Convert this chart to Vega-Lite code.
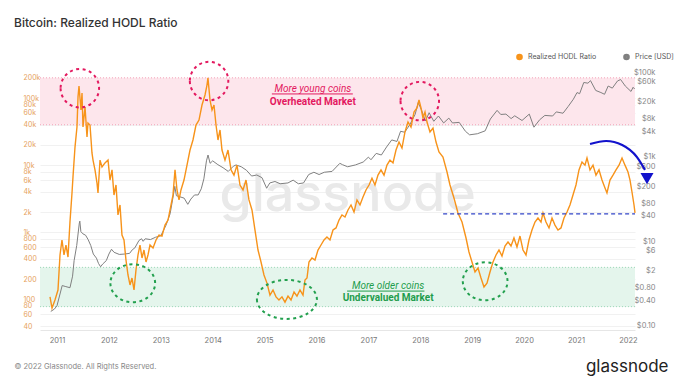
{
"$schema": "https://vega.github.io/schema/vega-lite/v6.json",
"width": 595, "height": 264,
"autosize": {"type": "none"},
"padding": {"left": 40, "top": 66, "right": 45, "bottom": 53},
"background": "white",
"config": {"font": "Inter", "view": {"stroke": null}},
"title": {"text": "Bitcoin: Realized HODL Ratio", "anchor": "start", "frame": "group", "dx": -26, "dy": -13, "fontSize": 12, "fontWeight": 500, "color": "#333", "offset": 10},
"datasets": {
"hodl": [{"t":2010.865,"v":109},{"t":2010.904,"v":74},{"t":2010.961,"v":98},{"t":2011.019,"v":138},{"t":2011.058,"v":459},{"t":2011.096,"v":767},{"t":2011.135,"v":459},{"t":2011.173,"v":646},{"t":2011.212,"v":428},{"t":2011.25,"v":1420},{"t":2011.289,"v":3850},{"t":2011.308,"v":6650},{"t":2011.347,"v":18600},{"t":2011.385,"v":37000},{"t":2011.405,"v":104000},{"t":2011.424,"v":151000},{"t":2011.462,"v":66300},{"t":2011.482,"v":119000},{"t":2011.501,"v":37000},{"t":2011.54,"v":73500},{"t":2011.578,"v":26300},{"t":2011.597,"v":42400},{"t":2011.636,"v":39600},{"t":2011.674,"v":15200},{"t":2011.694,"v":11900},{"t":2011.732,"v":8500},{"t":2011.771,"v":5400},{"t":2011.79,"v":3850},{"t":2011.829,"v":11900},{"t":2011.867,"v":9400},{"t":2011.925,"v":10800},{"t":2011.983,"v":11900},{"t":2012.021,"v":6000},{"t":2012.06,"v":8500},{"t":2012.098,"v":3590},{"t":2012.137,"v":5060},{"t":2012.175,"v":1810},{"t":2012.214,"v":2550},{"t":2012.252,"v":910},{"t":2012.291,"v":767},{"t":2012.329,"v":386},{"t":2012.368,"v":231},{"t":2012.407,"v":164},{"t":2012.445,"v":208},{"t":2012.484,"v":138},{"t":2012.522,"v":274},{"t":2012.561,"v":459},{"t":2012.599,"v":646},{"t":2012.638,"v":414},{"t":2012.676,"v":544},{"t":2012.715,"v":361},{"t":2012.753,"v":459},{"t":2012.792,"v":646},{"t":2012.85,"v":583},{"t":2012.908,"v":767},{"t":2012.965,"v":910},{"t":2013.023,"v":879},{"t":2013.081,"v":1280},{"t":2013.139,"v":1520},{"t":2013.197,"v":2550},{"t":2013.235,"v":3590},{"t":2013.274,"v":8500},{"t":2013.312,"v":4270},{"t":2013.351,"v":3030},{"t":2013.389,"v":4270},{"t":2013.447,"v":6000},{"t":2013.505,"v":10000},{"t":2013.563,"v":16800},{"t":2013.62,"v":23700},{"t":2013.678,"v":39600},{"t":2013.736,"v":47000},{"t":2013.794,"v":78700},{"t":2013.852,"v":111000},{"t":2013.89,"v":156000},{"t":2013.909,"v":199000},{"t":2013.948,"v":93400},{"t":2013.987,"v":66300},{"t":2014.025,"v":78700},{"t":2014.064,"v":39600},{"t":2014.102,"v":23700},{"t":2014.141,"v":33400},{"t":2014.179,"v":16800},{"t":2014.237,"v":11900},{"t":2014.295,"v":16800},{"t":2014.353,"v":8500},{"t":2014.41,"v":7100},{"t":2014.468,"v":10000},{"t":2014.526,"v":5060},{"t":2014.584,"v":4270},{"t":2014.642,"v":6000},{"t":2014.699,"v":3030},{"t":2014.757,"v":2150},{"t":2014.815,"v":1080},{"t":2014.873,"v":544},{"t":2014.931,"v":361},{"t":2014.988,"v":231},{"t":2015.046,"v":175},{"t":2015.104,"v":116},{"t":2015.162,"v":138},{"t":2015.22,"v":109},{"t":2015.277,"v":98},{"t":2015.335,"v":109},{"t":2015.393,"v":91},{"t":2015.451,"v":112},{"t":2015.509,"v":98},{"t":2015.567,"v":129},{"t":2015.624,"v":112},{"t":2015.682,"v":138},{"t":2015.74,"v":116},{"t":2015.778,"v":194},{"t":2015.817,"v":208},{"t":2015.855,"v":361},{"t":2015.913,"v":414},{"t":2015.971,"v":386},{"t":2016.029,"v":544},{"t":2016.087,"v":646},{"t":2016.145,"v":767},{"t":2016.202,"v":850},{"t":2016.26,"v":767},{"t":2016.318,"v":1080},{"t":2016.376,"v":1160},{"t":2016.434,"v":1520},{"t":2016.491,"v":1810},{"t":2016.549,"v":1690},{"t":2016.607,"v":2150},{"t":2016.665,"v":2550},{"t":2016.723,"v":2000},{"t":2016.78,"v":3030},{"t":2016.838,"v":2550},{"t":2016.896,"v":3350},{"t":2016.954,"v":4270},{"t":2017.012,"v":5060},{"t":2017.069,"v":6400},{"t":2017.127,"v":5060},{"t":2017.185,"v":7100},{"t":2017.243,"v":8500},{"t":2017.301,"v":7100},{"t":2017.358,"v":10000},{"t":2017.416,"v":11900},{"t":2017.474,"v":10800},{"t":2017.532,"v":16800},{"t":2017.59,"v":22100},{"t":2017.647,"v":18000},{"t":2017.705,"v":31200},{"t":2017.763,"v":43900},{"t":2017.821,"v":37000},{"t":2017.879,"v":61900},{"t":2017.936,"v":71000},{"t":2017.975,"v":93400},{"t":2018.014,"v":71000},{"t":2018.052,"v":50400},{"t":2018.091,"v":61900},{"t":2018.129,"v":43900},{"t":2018.187,"v":31200},{"t":2018.245,"v":35700},{"t":2018.303,"v":22100},{"t":2018.36,"v":15700},{"t":2018.437,"v":13200},{"t":2018.515,"v":7900},{"t":2018.572,"v":5060},{"t":2018.649,"v":3240},{"t":2018.726,"v":1940},{"t":2018.804,"v":1420},{"t":2018.881,"v":822},{"t":2018.938,"v":508},{"t":2018.996,"v":361},{"t":2019.054,"v":256},{"t":2019.112,"v":294},{"t":2019.17,"v":208},{"t":2019.227,"v":153},{"t":2019.285,"v":175},{"t":2019.343,"v":256},{"t":2019.401,"v":361},{"t":2019.459,"v":459},{"t":2019.516,"v":544},{"t":2019.574,"v":443},{"t":2019.632,"v":624},{"t":2019.69,"v":716},{"t":2019.748,"v":624},{"t":2019.805,"v":822},{"t":2019.863,"v":603},{"t":2019.921,"v":879},{"t":2019.979,"v":544},{"t":2020.037,"v":459},{"t":2020.094,"v":767},{"t":2020.152,"v":1080},{"t":2020.21,"v":1420},{"t":2020.268,"v":1630},{"t":2020.326,"v":1420},{"t":2020.364,"v":1940},{"t":2020.422,"v":1420},{"t":2020.48,"v":1160},{"t":2020.538,"v":1630},{"t":2020.595,"v":1280},{"t":2020.653,"v":1080},{"t":2020.711,"v":1160},{"t":2020.769,"v":1630},{"t":2020.827,"v":2000},{"t":2020.884,"v":2550},{"t":2020.942,"v":3590},{"t":2021.0,"v":5060},{"t":2021.058,"v":8500},{"t":2021.116,"v":11100},{"t":2021.173,"v":10000},{"t":2021.212,"v":12800},{"t":2021.27,"v":8500},{"t":2021.328,"v":10000},{"t":2021.385,"v":7100},{"t":2021.443,"v":8500},{"t":2021.501,"v":6000},{"t":2021.559,"v":4570},{"t":2021.597,"v":3850},{"t":2021.655,"v":6000},{"t":2021.713,"v":7100},{"t":2021.771,"v":8500},{"t":2021.829,"v":10000},{"t":2021.887,"v":12800},{"t":2021.944,"v":10000},{"t":2022.002,"v":7900},{"t":2022.041,"v":6000},{"t":2022.079,"v":3980},{"t":2022.118,"v":2550},{"t":2022.137,"v":1940}],
"price": [{"t":2010.88,"p":0.22},{"t":2010.95,"p":0.25},{"t":2011.0,"p":0.3},{"t":2011.1,"p":0.9},{"t":2011.17,"p":0.85},{"t":2011.25,"p":0.8},{"t":2011.3,"p":1.5},{"t":2011.33,"p":3.5},{"t":2011.38,"p":8},{"t":2011.43,"p":27},{"t":2011.44,"p":30},{"t":2011.46,"p":17},{"t":2011.5,"p":15},{"t":2011.55,"p":14},{"t":2011.6,"p":11},{"t":2011.65,"p":8},{"t":2011.7,"p":5},{"t":2011.76,"p":4},{"t":2011.8,"p":3},{"t":2011.84,"p":2.5},{"t":2011.88,"p":2.9},{"t":2011.95,"p":3.5},{"t":2012.0,"p":5},{"t":2012.05,"p":6.5},{"t":2012.1,"p":5.5},{"t":2012.2,"p":4.9},{"t":2012.3,"p":5.0},{"t":2012.4,"p":5.2},{"t":2012.45,"p":6.3},{"t":2012.5,"p":7},{"t":2012.58,"p":10.5},{"t":2012.63,"p":11.5},{"t":2012.66,"p":10},{"t":2012.7,"p":11.5},{"t":2012.8,"p":11},{"t":2012.9,"p":12.5},{"t":2013.0,"p":13.5},{"t":2013.1,"p":24},{"t":2013.18,"p":45},{"t":2013.25,"p":140},{"t":2013.27,"p":200},{"t":2013.3,"p":120},{"t":2013.35,"p":115},{"t":2013.45,"p":105},{"t":2013.52,"p":75},{"t":2013.58,"p":100},{"t":2013.65,"p":125},{"t":2013.72,"p":125},{"t":2013.78,"p":175},{"t":2013.83,"p":300},{"t":2013.88,"p":800},{"t":2013.91,"p":1100},{"t":2013.95,"p":700},{"t":2014.0,"p":800},{"t":2014.1,"p":650},{"t":2014.2,"p":550},{"t":2014.3,"p":450},{"t":2014.4,"p":600},{"t":2014.45,"p":640},{"t":2014.55,"p":580},{"t":2014.65,"p":480},{"t":2014.75,"p":350},{"t":2014.85,"p":370},{"t":2014.95,"p":320},{"t":2015.04,"p":180},{"t":2015.1,"p":240},{"t":2015.2,"p":260},{"t":2015.3,"p":230},{"t":2015.45,"p":240},{"t":2015.55,"p":280},{"t":2015.65,"p":230},{"t":2015.75,"p":240},{"t":2015.85,"p":380},{"t":2015.95,"p":430},{"t":2016.05,"p":380},{"t":2016.15,"p":430},{"t":2016.3,"p":450},{"t":2016.45,"p":700},{"t":2016.5,"p":650},{"t":2016.6,"p":580},{"t":2016.75,"p":640},{"t":2016.9,"p":750},{"t":2017.0,"p":980},{"t":2017.05,"p":850},{"t":2017.15,"p":1200},{"t":2017.25,"p":1100},{"t":2017.35,"p":1700},{"t":2017.45,"p":2500},{"t":2017.55,"p":2300},{"t":2017.62,"p":4000},{"t":2017.7,"p":3800},{"t":2017.8,"p":5800},{"t":2017.9,"p":10000},{"t":2017.96,"p":19000},{"t":2018.02,"p":13000},{"t":2018.1,"p":7000},{"t":2018.17,"p":11000},{"t":2018.26,"p":6900},{"t":2018.35,"p":9200},{"t":2018.45,"p":6300},{"t":2018.55,"p":8200},{"t":2018.62,"p":6300},{"t":2018.75,"p":6500},{"t":2018.87,"p":4000},{"t":2018.95,"p":3300},{"t":2019.1,"p":3500},{"t":2019.25,"p":4100},{"t":2019.35,"p":7800},{"t":2019.48,"p":12500},{"t":2019.55,"p":10000},{"t":2019.65,"p":10200},{"t":2019.75,"p":8000},{"t":2019.82,"p":9300},{"t":2019.96,"p":7200},{"t":2020.1,"p":10200},{"t":2020.19,"p":5000},{"t":2020.3,"p":7500},{"t":2020.4,"p":9500},{"t":2020.55,"p":9200},{"t":2020.62,"p":11500},{"t":2020.75,"p":10700},{"t":2020.85,"p":15500},{"t":2020.95,"p":23000},{"t":2021.02,"p":33000},{"t":2021.07,"p":31000},{"t":2021.15,"p":57000},{"t":2021.23,"p":55000},{"t":2021.28,"p":63000},{"t":2021.38,"p":37000},{"t":2021.48,"p":33000},{"t":2021.55,"p":30000},{"t":2021.62,"p":47000},{"t":2021.7,"p":42000},{"t":2021.8,"p":62000},{"t":2021.86,"p":67000},{"t":2021.95,"p":47000},{"t":2022.06,"p":35000},{"t":2022.1,"p":44000},{"t":2022.13,"p":40000}],
"bands": [{"zone":"over","t":2010.6725,"t1":2022.137,"lo":40000,"hi":200000},{"zone":"under","t":2010.6725,"t1":2022.137,"lo":78,"hi":300}],
"peaks": [{"t":2011.44,"v":140000},{"t":2013.93,"v":179000},{"t":2017.99,"v":90000}],
"lowsRound": [{"t":2012.46,"v":174},{"t":2019.25,"v":186}],
"lowsWide": [{"t":2015.43,"v":100}],
"labels": [{"t":2015.93,"v":136000,"txt":"More young coins","zone":"over","kind":"head"},{"t":2015.93,"v":86000,"txt":"Overheated Market","zone":"over","kind":"sub"},{"t":2017.38,"v":158,"txt":"More older coins","zone":"under","kind":"head"},{"t":2017.38,"v":104,"txt":"Undervalued Market","zone":"under","kind":"sub"}],
"underlines": [{"zone":"over","t":2015.14,"t1":2016.7,"v":115000},{"zone":"under","t":2016.59,"t1":2018.08,"v":133}],
"support": [{"t":2018.44,"t1":2022.137,"v":1880}],
"arrow": [{"t":2021.27,"v":20700},{"t":2021.58,"v":22900},{"t":2021.89,"v":20000},{"t":2022.175,"v":13200},{"t":2022.33,"v":8500}],
"arrowHead": [{"t":2022.368,"v":6300}],
"mark": [{"t":2016.6,"v":3600,"txt":"glassnode"}]
},
"encoding": {
 "x": {"field": "t", "type": "quantitative", "scale": {"domain": [2010.6725, 2022.137], "nice": false, "zero": false},
   "axis": {"values": [2011,2012,2013,2014,2015,2016,2017,2018,2019,2020,2021,2022], "format": "d", "labelColor": "#777", "labelFontSize": 7.5, "ticks": false, "tickSize": 0, "domain": true, "domainColor": "#e6e6e6", "grid": false, "labelPadding": 6, "labelFlush": false,
     "title": "© 2022 Glassnode. All Rights Reserved.", "titleAnchor": "start", "titleAlign": "left", "titleBaseline": "middle", "titleX": -26, "titleY": 36, "titleFontSize": 7.5, "titleColor": "#888", "titleFontWeight": "normal"}}
},
"layer": [
 {"data": {"name": "bands"}, "transform": [{"filter": "datum.zone == 'over'"}], "mark": {"type": "rect", "fill": "#fde6ec"},
  "encoding": {"x2": {"field": "t1"}, "y": {"field": "lo", "type": "quantitative", "scale": {"type": "log", "domain": [35, 300000], "nice": false, "zero": false}, "axis": null}, "y2": {"field": "hi"}}},
 {"data": {"name": "bands"}, "transform": [{"filter": "datum.zone == 'under'"}], "mark": {"type": "rect", "fill": "#e4f5ec"},
  "encoding": {"x2": {"field": "t1"}, "y": {"field": "lo", "type": "quantitative", "scale": {"type": "log", "domain": [35, 300000], "nice": false, "zero": false}, "axis": null}, "y2": {"field": "hi"}}},
 {"data": {"name": "bands"}, "transform": [{"filter": "datum.zone == 'over'"}, {"fold": ["lo", "hi"], "as": ["edge", "ev"]}], "mark": {"type": "rule", "stroke": "#f3a3b8", "strokeDash": [1, 2], "strokeWidth": 1},
  "encoding": {"x2": {"field": "t1"}, "y": {"field": "ev", "type": "quantitative", "scale": {"type": "log", "domain": [35, 300000], "nice": false, "zero": false}, "axis": null}}},
 {"data": {"name": "bands"}, "transform": [{"filter": "datum.zone == 'under'"}, {"fold": ["lo", "hi"], "as": ["edge", "ev"]}], "mark": {"type": "rule", "stroke": "#9dd8b8", "strokeDash": [1, 2], "strokeWidth": 1},
  "encoding": {"x2": {"field": "t1"}, "y": {"field": "ev", "type": "quantitative", "scale": {"type": "log", "domain": [35, 300000], "nice": false, "zero": false}, "axis": null}}},
 {"data": {"name": "mark"}, "mark": {"type": "text", "fontSize": 52, "font": "Inter", "color": "#e9e9e9", "fontWeight": 500},
  "encoding": {"y": {"field": "v", "type": "quantitative", "scale": {"type": "log", "domain": [35, 300000], "nice": false, "zero": false}, "axis": null}, "text": {"field": "txt"}}},
 {"data": {"name": "price"}, "mark": {"type": "line", "strokeWidth": 1},
  "encoding": {
   "y": {"field": "p", "type": "quantitative", "scale": {"type": "log", "domain": [0.08, 140000], "nice": false, "zero": false},
     "axis": {"orient": "right", "values": [0.1,0.4,0.8,2,6,10,40,80,200,600,1000,4000,8000,20000,60000,100000],
       "labelExpr": "datum.value < 1 ? '$' + format(datum.value, '.2f') : '$' + format(datum.value, '~s')",
       "labelAlign": "right", "labelPadding": 20, "ticks": false, "tickSize": 0, "domain": false, "grid": false, "labelColor": "#888", "labelFontSize": 7.5, "labelOverlap": false, "labelBound": false,
       "title": "glassnode", "titleAngle": 0, "titleAlign": "right", "titleBaseline": "middle", "titleX": 33, "titleY": 300, "titleFontSize": 17, "titleFontWeight": "normal", "titleColor": "#222"}},
   "color": {"datum": "Price [USD]", "type": "nominal"}
  }},
 {"data": {"name": "hodl"}, "mark": {"type": "line", "strokeWidth": 1.4, "interpolate": "linear"},
  "encoding": {
   "y": {"field": "v", "type": "quantitative", "scale": {"type": "log", "domain": [35, 300000], "nice": false, "zero": false},
     "axis": {"orient": "left", "values": [40,60,80,100,200,400,600,800,1000,2000,4000,6000,8000,10000,20000,40000,60000,80000,100000,200000], "format": "~s", "labelColor": "#e6a25c", "labelFontSize": 7, "labelAlign": "left", "labelPadding": 17, "ticks": false, "tickSize": 0, "domain": false, "grid": true, "gridColor": "#f1f1f1", "labelOverlap": false, "labelBound": false, "title": null}},
   "color": {"datum": "Realized HODL Ratio", "type": "nominal",
     "scale": {"domain": ["Realized HODL Ratio", "Price [USD]"], "range": ["#f7931a", "#808080"]},
     "legend": {"orient": "none", "legendX": 476, "legendY": -13, "direction": "horizontal", "title": null, "symbolType": "circle", "symbolSize": 10, "symbolStrokeWidth": 3.5, "labelFontSize": 7, "labelColor": "#555", "columnPadding": 20, "labelOffset": 5}}
  }},
 {"data": {"name": "support"}, "mark": {"type": "rule", "stroke": "#3346c8", "strokeDash": [4, 3], "strokeWidth": 1.4},
  "encoding": {"x2": {"field": "t1"},
   "y": {"field": "v", "type": "quantitative", "scale": {"type": "log", "domain": [35, 300000], "nice": false, "zero": false}, "axis": null}}},
 {"data": {"name": "arrow"}, "mark": {"type": "line", "stroke": "#1212cc", "strokeWidth": 2.2, "interpolate": "monotone", "clip": false},
  "encoding": {"y": {"field": "v", "type": "quantitative", "scale": {"type": "log", "domain": [35, 300000], "nice": false, "zero": false}, "axis": null}}},
 {"data": {"name": "arrowHead"}, "mark": {"type": "point", "shape": "triangle-down", "filled": true, "fill": "#1212cc", "size": 170, "opacity": 1, "clip": false},
  "encoding": {"y": {"field": "v", "type": "quantitative", "scale": {"type": "log", "domain": [35, 300000], "nice": false, "zero": false}, "axis": null}}},
 {"data": {"name": "peaks"}, "mark": {"type": "point", "shape": "M-1,0A1,1,0,1,0,1,0A1,1,0,1,0,-1,0", "filled": false, "stroke": "#e3195f", "strokeWidth": 2, "strokeDash": [3, 3.5], "size": 1480, "opacity": 1},
  "encoding": {"y": {"field": "v", "type": "quantitative", "scale": {"type": "log", "domain": [35, 300000], "nice": false, "zero": false}, "axis": null}}},
 {"data": {"name": "lowsRound"}, "mark": {"type": "point", "shape": "M-1,0A1,0.85,0,1,0,1,0A1,0.85,0,1,0,-1,0", "filled": false, "stroke": "#22a04e", "strokeWidth": 2, "strokeDash": [3, 3.5], "size": 2000, "opacity": 1},
  "encoding": {"y": {"field": "v", "type": "quantitative", "scale": {"type": "log", "domain": [35, 300000], "nice": false, "zero": false}, "axis": null}}},
 {"data": {"name": "lowsWide"}, "mark": {"type": "point", "shape": "M-1,0A1,0.65,0,1,0,1,0A1,0.65,0,1,0,-1,0", "filled": false, "stroke": "#22a04e", "strokeWidth": 2, "strokeDash": [3, 3.5], "size": 3600, "opacity": 1},
  "encoding": {"y": {"field": "v", "type": "quantitative", "scale": {"type": "log", "domain": [35, 300000], "nice": false, "zero": false}, "axis": null}}},
 {"data": {"name": "labels"}, "transform": [{"filter": "datum.zone == 'over' && datum.kind == 'head'"}], "mark": {"type": "text", "font": "Roboto", "fontSize": 10, "fontStyle": "italic", "color": "#e3195f"},
  "encoding": {"y": {"field": "v", "type": "quantitative", "scale": {"type": "log", "domain": [35, 300000], "nice": false, "zero": false}, "axis": null}, "text": {"field": "txt"}}},
 {"data": {"name": "labels"}, "transform": [{"filter": "datum.zone == 'over' && datum.kind == 'sub'"}], "mark": {"type": "text", "font": "Roboto", "fontSize": 10, "fontWeight": "bold", "color": "#e3195f"},
  "encoding": {"y": {"field": "v", "type": "quantitative", "scale": {"type": "log", "domain": [35, 300000], "nice": false, "zero": false}, "axis": null}, "text": {"field": "txt"}}},
 {"data": {"name": "labels"}, "transform": [{"filter": "datum.zone == 'under' && datum.kind == 'head'"}], "mark": {"type": "text", "font": "Roboto", "fontSize": 10, "fontStyle": "italic", "color": "#1f9d4c"},
  "encoding": {"y": {"field": "v", "type": "quantitative", "scale": {"type": "log", "domain": [35, 300000], "nice": false, "zero": false}, "axis": null}, "text": {"field": "txt"}}},
 {"data": {"name": "labels"}, "transform": [{"filter": "datum.zone == 'under' && datum.kind == 'sub'"}], "mark": {"type": "text", "font": "Roboto", "fontSize": 10, "fontWeight": "bold", "color": "#1f9d4c"},
  "encoding": {"y": {"field": "v", "type": "quantitative", "scale": {"type": "log", "domain": [35, 300000], "nice": false, "zero": false}, "axis": null}, "text": {"field": "txt"}}},
 {"data": {"name": "underlines"}, "transform": [{"filter": "datum.zone == 'over'"}], "mark": {"type": "rule", "stroke": "#e3195f", "strokeWidth": 1},
  "encoding": {"x2": {"field": "t1"}, "y": {"field": "v", "type": "quantitative", "scale": {"type": "log", "domain": [35, 300000], "nice": false, "zero": false}, "axis": null}}},
 {"data": {"name": "underlines"}, "transform": [{"filter": "datum.zone == 'under'"}], "mark": {"type": "rule", "stroke": "#1f9d4c", "strokeWidth": 1},
  "encoding": {"x2": {"field": "t1"}, "y": {"field": "v", "type": "quantitative", "scale": {"type": "log", "domain": [35, 300000], "nice": false, "zero": false}, "axis": null}}}
],
"resolve": {"scale": {"y": "independent"}}
}
